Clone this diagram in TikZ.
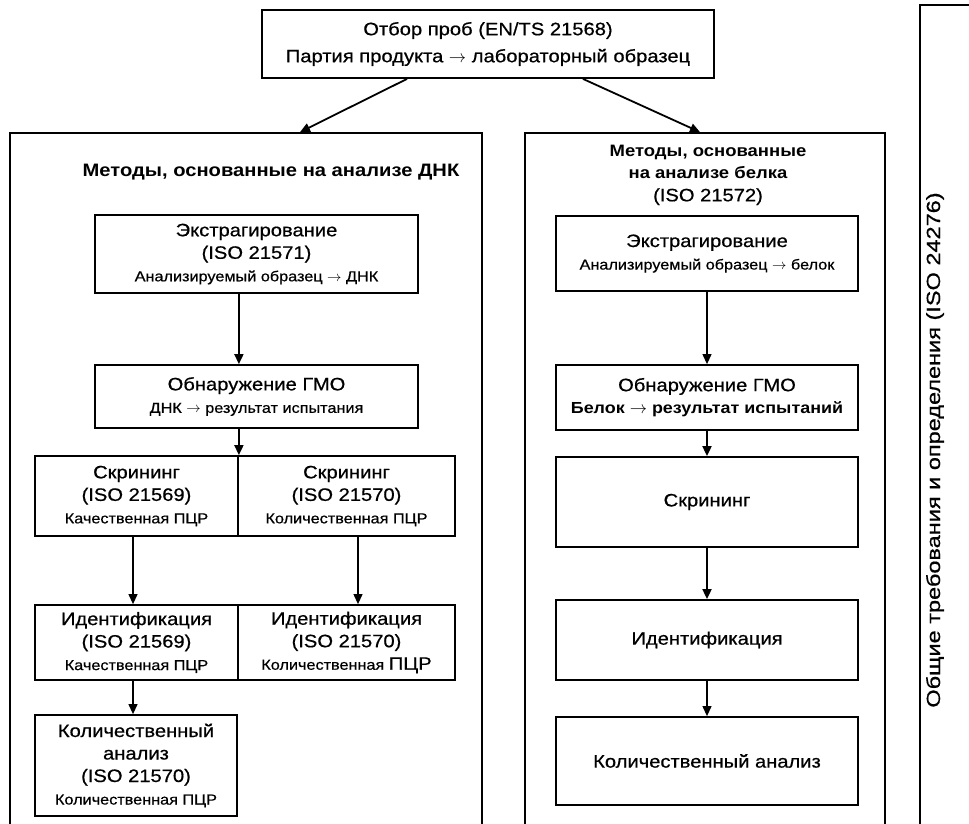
\documentclass[tikz,border=0pt]{standalone}
\usepackage{fontspec}
\usepackage{graphicx}
\setmainfont{Liberation Sans}[FakeStretch=1.12, UprightFeatures={FakeBold=0.6}]
\usetikzlibrary{arrows.meta}
\newcommand\mfont{\fontsize{18}{22.5}\selectfont}
\newcommand\sfont{\fontsize{14.5}{20}\selectfont}
\begin{document}
\begin{tikzpicture}[x=1pt,y=-1pt,
  box/.style={draw, line width=1.8pt, inner sep=0pt, align=center, font=\mfont},
  frm/.style={draw, line width=1.8pt, inner sep=0pt},
  arrA/.style={line width=1.8pt, -{Triangle[length=10pt,width=9pt]}},
  arrB/.style={line width=1.1pt, -{Triangle[length=10pt,width=9pt]}},
  head/.style={inner sep=0pt, align=center, font=\fontsize{18}{22.5}\selectfont\bfseries},
]
\useasboundingbox (0,0) rectangle (969,823);
\clip (0,0) rectangle (969,823);
\fill[white] (0,0) rectangle (969,823);

% top
\node[box, minimum width=452pt, minimum height=68pt, font=\fontsize{18}{27}\selectfont] (top) at (488,44)
  {Отбор проб (EN/TS 21568)\\Партия продукта $\rightarrow$ лабораторный образец};

% containers
\node[frm, minimum width=472pt, minimum height=707pt] (dnaF) at (246,486.5) {};
\node[frm, minimum width=360pt, minimum height=707pt] (protF) at (705,486.5) {};
\node[draw, line width=1.4pt, inner sep=0pt, minimum width=80pt, minimum height=895pt] (gen) at (960,452.5) {};
\node[inner sep=0pt, rotate=90, font=\fontsize{20}{24}\selectfont] (gtext) at (935,450)
  {\scalebox{1.05}[0.95]{Общие требования и определения (ISO 24276)}};

\draw[arrA] ([xshift=-81pt]top.south) -- ([xshift=54pt]dnaF.north);
\draw[arrA] ([xshift=95pt]top.south) -- ([xshift=-5pt]protF.north);

% DNA side
\node[head] (dnaH) at (271,172) {Методы, основанные на анализе ДНК};
\node[box, minimum width=323pt, minimum height=78pt] (ex1) at (256.5,254)
  {Экстрагирование\\(ISO 21571)\\\sfont Анализируемый образец $\rightarrow$ ДНК};
\node[box, minimum width=323pt, minimum height=63pt] (det1) at (256.5,396.5)
  {Обнаружение ГМО\\\sfont ДНК $\rightarrow$ результат испытания};
\node[box, minimum width=203pt, minimum height=80pt] (scr1) at (136.5,496)
  {Скрининг\\(ISO 21569)\\\sfont Качественная ПЦР};
\node[box, minimum width=217pt, minimum height=80pt] (scr2) at (346.5,496)
  {Скрининг\\(ISO 21570)\\\sfont Количественная ПЦР};
\node[box, minimum width=203pt, minimum height=75pt] (id1) at (136.5,642.5)
  {Идентификация\\(ISO 21569)\\\sfont Качественная ПЦР};
\node[box, minimum width=217pt, minimum height=75pt] (id2) at (346.5,642.5)
  {Идентификация\\(ISO 21570)\\\sfont Количественная {\mfont ПЦР}};
\node[box, minimum width=202pt, minimum height=101pt] (q1) at (136,765.5)
  {Количественный\\анализ\\(ISO 21570)\\\sfont Количественная ПЦР};

\draw[arrA] (ex1.south -| scr1.north east) -- (det1.north -| scr1.north east);
\draw[arrA] (det1.south -| scr1.north east) -- (scr1.north east);
\draw[arrB] ([xshift=-3.5pt]scr1.south) -- ([xshift=-3.5pt]id1.north);
\draw[arrB] ([xshift=11.5pt]scr2.south) -- ([xshift=11.5pt]id2.north);
\draw[arrB] ([xshift=-3.5pt]id1.south) -- ([xshift=-3pt]q1.north);

% protein side
\node[head, font=\fontsize{16.5}{22.5}\selectfont\bfseries] (protH) at (708,175)
  {Методы, основанные\\на анализе белка\\\mdseries\fontsize{18}{22.5}\selectfont (ISO 21572)};
\node[box, minimum width=302pt, minimum height=75pt] (ex2) at (707,253.5)
  {Экстрагирование\\\sfont Анализируемый образец $\rightarrow$ белок};
\node[box, minimum width=302pt, minimum height=65pt] (det2) at (707,397.5)
  {Обнаружение ГМО\\{\bfseries\fontsize{16}{20}\selectfont Белок $\rightarrow$ результат испытаний}};
\node[box, minimum width=302pt, minimum height=90pt] (scr3) at (707,502) {Скрининг};
\node[box, minimum width=302pt, minimum height=80pt] (id3) at (707,640) {Идентификация};
\node[box, minimum width=302pt, minimum height=88pt] (q2) at (707,761) {Количественный анализ};

\draw[arrB] (ex2) -- (det2);
\draw[arrA] (det2) -- (scr3);
\draw[arrA] (scr3) -- (id3);
\draw[arrB] (id3) -- (q2);
\end{tikzpicture}
\end{document}
